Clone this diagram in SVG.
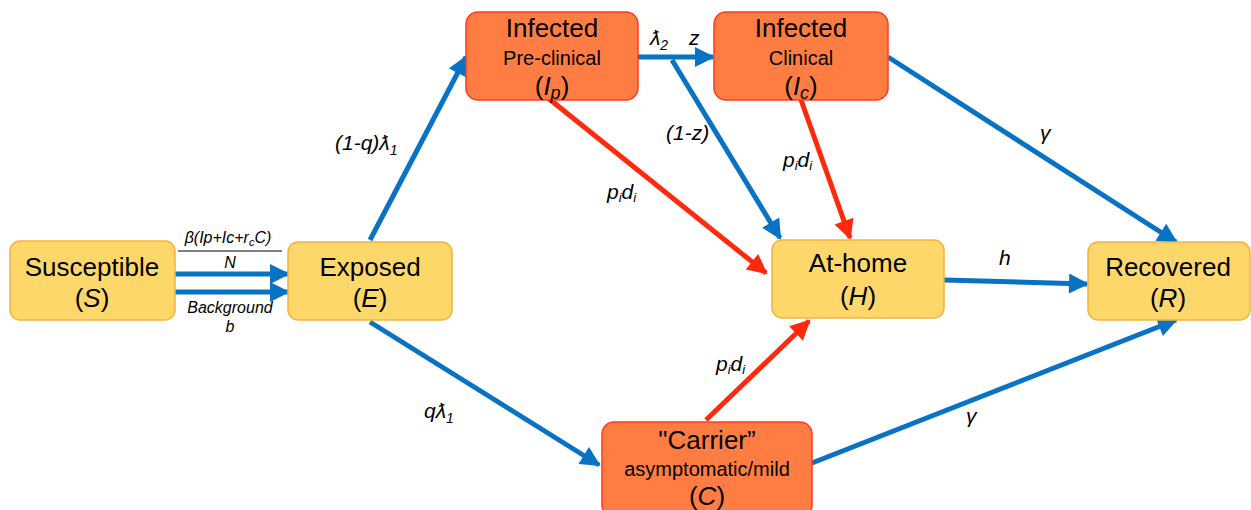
<svg xmlns="http://www.w3.org/2000/svg" width="1251" height="510" viewBox="0 0 1251 510">
<style>
text{font-family:"Liberation Sans",Arial,sans-serif;fill:#000}
.y{fill:#FDD769;stroke:#F2B43C;stroke-width:1.5}
.o{fill:#FF7D42;stroke:#FF3B1E;stroke-width:1.5}
.big{font-size:26px}
.mid{font-size:20px}
.lab{font-size:21px;font-style:italic}
.sm{font-size:16px;font-style:italic}
.b{stroke:#0872C4;stroke-width:5;fill:none}
.r{stroke:#FF2A0C;stroke-width:5;fill:none}
</style>
<defs>
<marker id="ab" viewBox="0 0 10 10" refX="9" refY="5" markerWidth="4.4" markerHeight="4" orient="auto" markerUnits="strokeWidth"><path d="M0,0 L10,5 L0,10 z" fill="#0872C4"/></marker>
<marker id="ar" viewBox="0 0 10 10" refX="9" refY="5" markerWidth="4.4" markerHeight="4" orient="auto" markerUnits="strokeWidth"><path d="M0,0 L10,5 L0,10 z" fill="#FF2A0C"/></marker>
</defs>
<g id="connectors">
<line class="b" x1="175" y1="274" x2="288" y2="274" marker-end="url(#ab)"/>
<line class="b" x1="175" y1="292" x2="288" y2="292" marker-end="url(#ab)"/>
<line class="b" x1="370" y1="240" x2="466" y2="57" marker-end="url(#ab)"/>
<line class="b" x1="370" y1="322" x2="599" y2="465" marker-end="url(#ab)"/>
<line class="b" x1="638" y1="57" x2="713" y2="57" marker-end="url(#ab)"/>
<line class="b" x1="672" y1="60" x2="780" y2="238" marker-end="url(#ab)"/>
<line class="b" x1="888" y1="57" x2="1176" y2="242" marker-end="url(#ab)"/>
<line class="b" x1="944" y1="280" x2="1087" y2="284" marker-end="url(#ab)"/>
<line class="b" x1="812" y1="463" x2="1176" y2="320" marker-end="url(#ab)"/>
<line class="r" x1="548" y1="98" x2="766" y2="273" marker-end="url(#ar)"/>
<line class="r" x1="800" y1="97" x2="850" y2="238" marker-end="url(#ar)"/>
<line class="r" x1="706" y1="420" x2="809" y2="321" marker-end="url(#ar)"/>
<text class="sm" x="228" y="243" text-anchor="middle" font-size="17">β(Ip+Ic+r<tspan font-size="11" dy="3">c</tspan><tspan dy="-3">C)</tspan></text>
<line x1="178" y1="251" x2="282" y2="251" stroke="#000" stroke-width="1"/>
<text class="sm" x="230" y="268" text-anchor="middle" font-size="17">N</text>
<text class="sm" x="230" y="313" text-anchor="middle">Background</text>
<text class="sm" x="230" y="332" text-anchor="middle">b</text>
<text class="lab" x="335" y="150">(1-q)ƛ<tspan font-size="14" dy="5">1</tspan></text>
<text class="lab" x="650" y="45">ƛ<tspan font-size="14" dy="5">2</tspan></text>
<text class="lab" x="689" y="45">z</text>
<text class="lab" x="666" y="140">(1-z)</text>
<text class="lab" x="607" y="199">p<tspan font-size="13" dy="3">i</tspan><tspan dy="-3">d</tspan><tspan font-size="13" dy="3">i</tspan></text>
<text class="lab" x="783" y="167">p<tspan font-size="13" dy="3">i</tspan><tspan dy="-3">d</tspan><tspan font-size="13" dy="3">i</tspan></text>
<text class="lab" x="716" y="371">p<tspan font-size="13" dy="3">i</tspan><tspan dy="-3">d</tspan><tspan font-size="13" dy="3">i</tspan></text>
<text class="lab" x="1040" y="140" font-size="24">γ</text>
<text class="lab" x="966" y="423" font-size="24">γ</text>
<text class="lab" x="999" y="265">h</text>
<text class="lab" x="424" y="418">qƛ<tspan font-size="14" dy="5">1</tspan></text>
</g>
<g id="susceptible">
<rect class="y" x="10" y="241" width="165" height="79" rx="10"/>
<text class="big" x="92" y="276" text-anchor="middle">Susceptible</text>
<text class="big" x="92" y="307" text-anchor="middle">(<tspan font-style="italic">S</tspan>)</text>
</g>
<g id="exposed">
<rect class="y" x="288" y="242" width="164" height="78" rx="10"/>
<text class="big" x="370" y="276" text-anchor="middle">Exposed</text>
<text class="big" x="370" y="307" text-anchor="middle">(<tspan font-style="italic">E</tspan>)</text>
</g>
<g id="infected-preclinical">
<rect class="o" x="466" y="12" width="172" height="88" rx="12"/>
<text class="big" x="552" y="37" text-anchor="middle">Infected</text>
<text class="mid" x="552" y="65" text-anchor="middle">Pre-clinical</text>
<text class="big" x="552" y="95" text-anchor="middle">(<tspan font-style="italic">I<tspan font-size="18" dy="4">p</tspan></tspan><tspan dy="-4">)</tspan></text>
</g>
<g id="infected-clinical">
<rect class="o" x="714" y="12" width="174" height="88" rx="12"/>
<text class="big" x="801" y="37" text-anchor="middle">Infected</text>
<text class="mid" x="801" y="65" text-anchor="middle">Clinical</text>
<text class="big" x="801" y="95" text-anchor="middle">(<tspan font-style="italic">I<tspan font-size="18" dy="4">c</tspan></tspan><tspan dy="-4">)</tspan></text>
</g>
<g id="at-home">
<rect class="y" x="772" y="240" width="172" height="78" rx="10"/>
<text class="big" x="858" y="272" text-anchor="middle">At-home</text>
<text class="big" x="858" y="305" text-anchor="middle">(<tspan font-style="italic">H</tspan>)</text>
</g>
<g id="recovered">
<rect class="y" x="1088" y="242" width="162" height="78" rx="10"/>
<text class="big" x="1168" y="276" text-anchor="middle">Recovered</text>
<text class="big" x="1168" y="307" text-anchor="middle">(<tspan font-style="italic">R</tspan>)</text>
</g>
<g id="carrier">
<rect class="o" x="602" y="422" width="210" height="95" rx="12"/>
<text class="big" x="707" y="449" text-anchor="middle">"Carrier”</text>
<text class="mid" x="707" y="476" text-anchor="middle">asymptomatic/mild</text>
<text class="big" x="707" y="505" text-anchor="middle">(<tspan font-style="italic">C</tspan>)</text>
</g>
</svg>
